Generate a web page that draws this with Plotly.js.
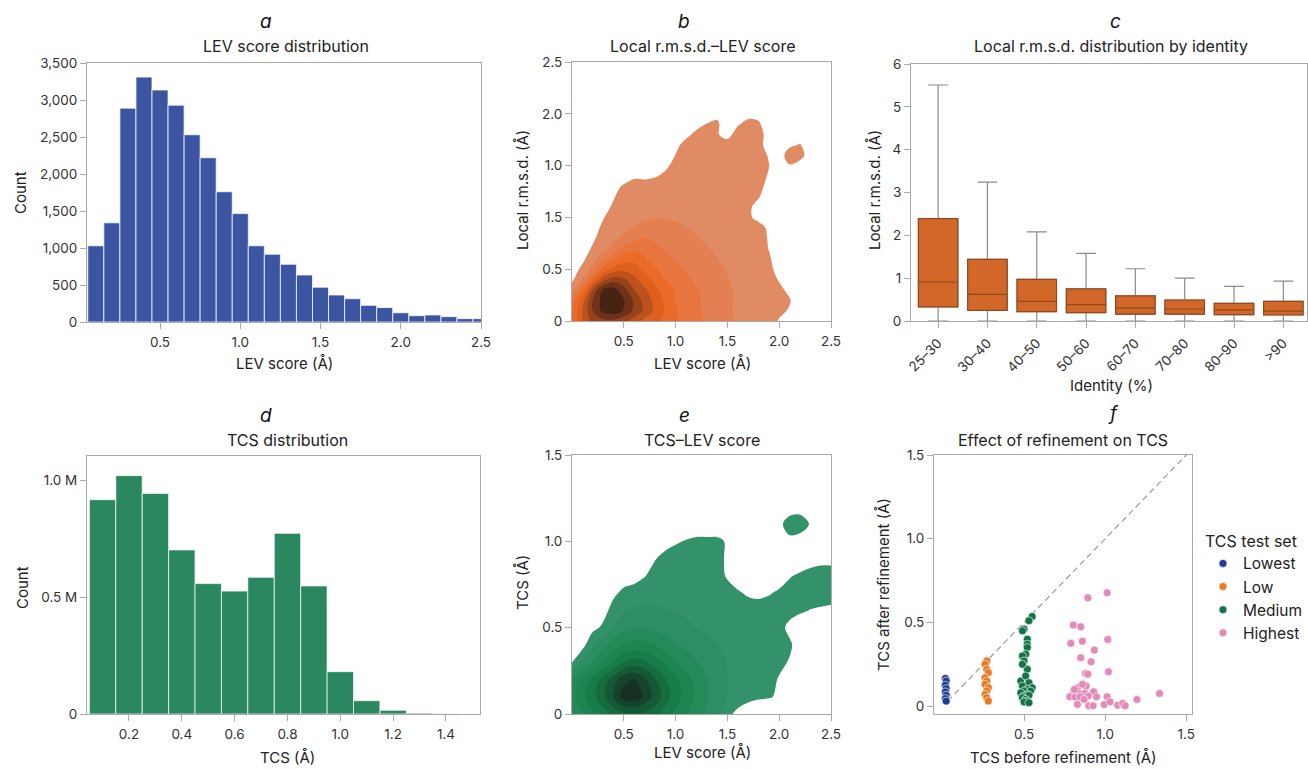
<!DOCTYPE html>
<html><head><meta charset="utf-8">
<script src="https://cdn.plot.ly/plotly-3.0.1.min.js"></script>
<style>html,body{margin:0;padding:0;background:#fff}</style>
</head><body>
<div id="chart" style="width:1308px;height:769px"></div>
<script>
// ---------- DATA ----------
// a: LEV score histogram
const levBinCenters = [0.1,0.2,0.3,0.4,0.5,0.6,0.7,0.8,0.9,1.0,1.1,1.2,1.3,1.4,1.5,1.6,1.7,1.8,1.9,2.0,2.1,2.2,2.3,2.4,2.5];
const levCounts = [1030,1340,2890,3310,3135,2930,2530,2220,1760,1465,1030,915,780,635,470,365,315,225,195,125,85,95,72,45,45];

// d: TCS histogram
const tcsBinCenters = [0.1,0.2,0.3,0.4,0.5,0.6,0.7,0.8,0.9,1.0,1.1,1.2,1.3,1.4];
const tcsCounts = [917000,1020000,944000,702000,558000,526000,585000,773000,548000,181000,57000,16000,4000,1000];

// c: local r.m.s.d. by identity (box statistics)
const identityBins = ["25–30","30–40","40–50","50–60","60–70","70–80","80–90",">90"];
const rmsdQ1     = [0.33,0.25,0.22,0.195,0.16,0.16,0.15,0.14];
const rmsdMedian = [0.91,0.62,0.46,0.38,0.30,0.28,0.26,0.23];
const rmsdQ3     = [2.39,1.44,0.97,0.75,0.585,0.49,0.41,0.46];
const rmsdLower  = [0,0,0,0,0,0,0,0];
const rmsdUpper  = [5.51,3.24,2.08,1.58,1.22,1.0,0.81,0.93];

// b, e: density level grids (level index)
const gridX  = [0,0.1,0.2,0.3,0.4,0.5,0.6,0.7,0.8,0.9,1.0,1.1,1.2,1.3,1.4,1.5,1.6,1.7,1.8,1.9,2.0,2.1,2.2,2.3,2.4,2.5];
const gridYB = [0,0.1,0.2,0.3,0.4,0.5,0.6,0.7,0.8,0.9,1.0,1.1,1.2,1.3,1.4,1.5,1.6,1.7,1.8,1.9,2.0,2.1,2.2,2.3,2.4,2.5];
const gridYE = [0,0.1,0.2,0.3,0.4,0.5,0.6,0.7,0.8,0.9,1.0,1.1,1.2,1.3,1.4,1.5];
const z0 = [0,0,0,0,0,0,0,0,0,0,0,0,0,0,0,0,0,0,0,0,0,0,0,0,0,0];
const rmsdLevGrid = [
 [3.5,5.5,6.8,7.2,7.2,6.8,6.0,5.2,4.8,4.2,3.6,3.2,2.7,2.4,2.0,1.7,1.4,1.2,1.0,0.8,0.45,0.1,0,0,0,0],
 [3.3,5.5,7.5,8.8,9.2,8.4,7.3,6.3,5.3,4.4,3.6,3.0,2.7,2.3,2.0,1.65,1.35,1.15,0.95,0.8,0.62,0.45,0.1,0,0,0],
 [3.0,5.0,7.5,8.9,9.5,8.6,7.3,6.1,5.2,4.3,3.45,3.0,2.6,2.35,2.0,1.7,1.35,1.15,1.0,0.85,0.7,0.55,0.1,0,0,0],
 [1.0,3.5,6.5,8.7,8.9,7.9,6.5,5.7,4.8,4.0,3.4,3.0,2.6,2.25,1.95,1.65,1.35,1.15,1.0,0.85,0.65,0.35,0,0,0,0],
 [0.3,1.45,4.0,6.1,7.0,6.7,5.8,4.9,4.2,3.45,3.1,2.7,2.35,2.1,1.8,1.55,1.3,1.1,0.95,0.75,0.45,0.1,0,0,0,0],
 [0.1,0.7,2.0,3.8,4.9,5.2,4.9,4.3,3.6,3.2,2.8,2.4,2.2,1.95,1.7,1.45,1.25,1.1,0.9,0.65,0.3,0,0,0,0,0],
 [0,0.3,1.0,2.2,3.3,4.0,4.2,3.6,3.1,2.75,2.45,2.2,1.95,1.75,1.52,1.35,1.2,1.05,0.85,0.58,0.2,0,0,0,0,0],
 [0,0.1,0.6,1.2,1.9,2.8,3.2,3.2,2.8,2.4,2.15,1.95,1.72,1.55,1.38,1.25,1.1,0.95,0.75,0.48,0.1,0,0,0,0,0],
 [0,0,0.35,0.85,1.3,1.7,2.2,2.55,2.3,2.0,1.85,1.7,1.55,1.42,1.3,1.2,1.1,0.95,0.75,0.45,0.1,0,0,0,0,0],
 [0,0,0.2,0.65,1.0,1.3,1.55,1.8,1.85,1.8,1.65,1.52,1.4,1.3,1.2,1.1,1.0,0.9,0.7,0.4,0.05,0,0,0,0,0],
 [0,0,0.05,0.45,0.85,1.1,1.25,1.35,1.45,1.45,1.4,1.32,1.25,1.18,1.1,1.0,0.85,0.6,0.35,0.15,0,0,0,0,0,0],
 [0,0,0,0.25,0.6,0.9,1.05,1.15,1.2,1.2,1.18,1.15,1.1,1.05,1.0,0.95,0.85,0.62,0.3,0.1,0,0,0,0,0,0],
 [0,0,0,0.1,0.45,0.75,0.9,0.95,1.0,1.0,1.0,1.0,1.0,1.0,1.0,1.0,0.95,0.8,0.55,0.2,0,0,0,0,0,0],
 [0,0,0,0,0.25,0.6,0.75,0.8,0.8,0.85,0.95,1.0,1.0,1.0,1.0,1.0,1.0,0.85,0.65,0.35,0,0,0,0,0,0],
 [0,0,0,0,0,0.1,0.4,0.35,0.45,0.6,0.8,0.95,1.0,1.0,1.0,1.0,1.0,0.85,0.7,0.45,0,0,0,0,0,0],
 [0,0,0,0,0,0,0,0,0.1,0.4,0.65,0.85,0.95,1.0,1.0,1.0,1.0,0.9,0.75,0.52,0.1,0.45,0.15,0,0,0],
 [0,0,0,0,0,0,0,0,0,0.15,0.52,0.8,0.95,1.0,1.0,1.0,1.0,0.9,0.75,0.45,0.1,0.9,0.8,0.1,0,0],
 [0,0,0,0,0,0,0,0,0,0,0.35,0.7,0.85,0.9,0.8,0.75,0.85,0.9,0.7,0.25,0,0.35,0.55,0.1,0,0],
 [0,0,0,0,0,0,0,0,0,0,0.1,0.35,0.65,0.7,0.55,0.3,0.75,0.85,0.7,0.3,0,0,0.1,0,0,0],
 [0,0,0,0,0,0,0,0,0,0,0,0.1,0.3,0.52,0.6,0.15,0.45,0.65,0.6,0.1,0,0,0,0,0,0],
 [0,0,0,0,0,0,0,0,0,0,0,0,0.1,0.2,0.35,0.1,0.1,0.35,0.3,0,0,0,0,0,0,0],
 z0, z0, z0, z0, z0
];
const tcsLevGrid = [
 [2.8,3.5,4.3,5.0,5.8,6.3,6.45,6.3,5.8,5.0,4.3,3.6,3.0,2.4,1.8,0.8,0.2,0.1,0,0,0,0,0,0,0,0],
 [3.2,4.2,5.2,6.3,7.6,9.0,9.2,8.3,7.2,6.0,5.0,4.1,3.3,2.6,2.0,1.45,1.1,0.7,0.6,0.55,0.42,0,0,0,0,0],
 [2.8,3.8,4.8,5.9,7.0,8.2,8.55,7.7,6.6,5.6,4.7,3.9,3.2,2.6,2.0,1.55,1.2,1.0,0.8,0.7,0.45,0,0,0,0,0],
 [0.45,1.6,2.6,3.6,4.6,5.45,5.9,5.7,5.0,4.3,3.6,3.0,2.55,2.1,1.75,1.45,1.2,1.0,0.85,0.75,0.65,0.45,0,0,0,0],
 [0,0.1,1.4,2.2,3.0,3.6,3.9,3.8,3.4,3.0,2.6,2.3,2.0,1.75,1.52,1.3,1.15,1.0,0.9,0.8,0.7,0.6,0.2,0,0,0],
 [0,0,0.2,0.7,1.6,2.2,2.45,2.45,2.3,2.1,1.9,1.7,1.48,1.35,1.2,1.1,1.0,0.9,0.85,0.8,0.7,0.35,0.1,0,0,0],
 [0,0,0,0.1,0.9,1.4,1.6,1.7,1.65,1.55,1.45,1.35,1.25,1.15,1.05,1.0,0.9,0.85,0.8,0.8,0.75,0.7,0.6,0.48,0.42,0.35],
 [0,0,0,0,0.3,0.75,0.95,1.05,1.1,1.1,1.1,1.05,1.0,1.0,0.95,0.85,0.6,0.4,0.35,0.45,0.6,0.75,0.8,0.8,0.8,0.8],
 [0,0,0,0,0,0,0.1,0.45,0.8,0.95,1.0,1.0,1.0,0.95,0.85,0.4,0.1,0,0,0,0.2,0.45,0.6,0.75,0.8,0.8],
 [0,0,0,0,0,0,0,0,0.45,0.75,0.9,0.95,0.95,0.9,0.8,0.35,0,0,0,0,0,0,0.1,0.2,0.3,0.3],
 [0,0,0,0,0,0,0,0,0,0.2,0.4,0.55,0.6,0.6,0.6,0.45,0,0,0,0,0,0.3,0.2,0,0,0],
 [0,0,0,0,0,0,0,0,0,0,0,0,0.2,0.2,0.2,0,0,0,0,0,0.3,0.85,0.85,0.45,0,0],
 [0,0,0,0,0,0,0,0,0,0,0,0,0,0,0,0,0,0,0,0,0,0.1,0.2,0,0,0],
 z0, z0, z0
];

// f: TCS before / after refinement
const lowestBefore = [0.015,0.02,0.015,0.02,0.015,0.02,0.015,0.02];
const lowestAfter  = [0.165,0.15,0.125,0.105,0.085,0.065,0.045,0.03];
const lowBefore = [0.27,0.26,0.27,0.28,0.26,0.27,0.26,0.28,0.27,0.26,0.27,0.28];
const lowAfter  = [0.27,0.25,0.22,0.20,0.17,0.15,0.13,0.11,0.09,0.07,0.05,0.03];
const mediumBefore = [0.55,0.53,0.50,0.49,0.52,0.52,0.52,0.51,0.49,0.50,0.52,0.49,0.48,0.51,0.53,0.49,0.55,0.52,0.50,0.54,0.48,0.52,0.50,0.53,0.49,0.51,0.52,0.50,0.53];
const mediumAfter  = [0.535,0.51,0.46,0.45,0.40,0.37,0.35,0.31,0.30,0.27,0.22,0.25,0.15,0.18,0.14,0.12,0.11,0.10,0.09,0.09,0.08,0.07,0.06,0.065,0.05,0.04,0.03,0.025,0.02];
const highestBefore = [1.012,0.893,0.804,0.849,0.788,0.859,1.016,0.933,0.849,0.913,0.879,0.893,1.02,0.829,0.883,0.929,0.804,0.839,0.875,0.782,0.815,0.845,0.895,0.946,1.012,0.829,0.899,0.925,0.994,1.03,1.077,1.107,1.123,1.196,1.335,0.81,0.86,0.87];
const highestAfter  = [0.677,0.647,0.484,0.474,0.375,0.388,0.398,0.335,0.289,0.265,0.195,0.191,0.205,0.11,0.12,0.086,0.085,0.076,0.076,0.056,0.054,0.056,0.06,0.056,0.056,0.01,0.002,0.002,0.01,0.026,0.006,0.016,0.002,0.04,0.076,0.1,0.13,0.04];
const identityLine = [0.03,1.5];

// ---------- STYLE ----------
const W = 1308, H = 769;
const FONT = "Inter, 'Noto Sans', 'DejaVu Sans', sans-serif";
const px = v => v / W;
const py = v => 1 - v / H;
const axBase = {
  showline:true, mirror:true, linecolor:'#a9a9a9', linewidth:1,
  ticks:'outside', ticklen:6, tickwidth:1, tickcolor:'#a9a9a9',
  showgrid:false, zeroline:false, fixedrange:true,
  tickfont:{family:FONT, size:13.5, color:'#333'}
};
const ax = o => Object.assign({}, axBase, o);
const xax = o => Object.assign({}, axBase, {ticklabelstandoff:2}, o);

const orangeScale = [[0,'#ffffff'],[1/9,'rgb(224,139,100)'],[2/9,'rgb(228,127,82)'],[3/9,'rgb(232,116,62)'],[4/9,'rgb(236,106,40)'],[5/9,'rgb(222,96,28)'],[6/9,'rgb(190,82,28)'],[7/9,'rgb(150,66,27)'],[8/9,'rgb(110,50,24)'],[1,'rgb(72,35,20)']];
const greenScale = [[0,'#ffffff'],[1/9,'rgb(52,146,106)'],[2/9,'rgb(44,142,98)'],[3/9,'rgb(36,138,90)'],[4/9,'rgb(28,133,82)'],[5/9,'rgb(22,124,73)'],[6/9,'rgb(20,108,63)'],[7/9,'rgb(20,88,53)'],[8/9,'rgb(20,68,43)'],[1,'rgb(22,48,34)']];

const contourCommon = {
  type:'contour', autocontour:false,
  contours:{start:0.5, end:8.5, size:1, coloring:'fill', showlines:false},
  line:{width:0, smoothing:1}, showscale:false, hoverinfo:'skip', showlegend:false
};

const traces = [
  {type:'bar', x:levBinCenters, y:levCounts, width:0.1, xaxis:'x', yaxis:'y',
   marker:{color:'#3c55a2', line:{color:'rgba(255,255,255,0.75)', width:1}}, showlegend:false, hoverinfo:'skip'},
  Object.assign({}, contourCommon, {x:gridX, y:gridYB, z:rmsdLevGrid, xaxis:'x2', yaxis:'y2', colorscale:orangeScale}),
  {type:'box', x:identityBins, q1:rmsdQ1, median:rmsdMedian, q3:rmsdQ3, lowerfence:rmsdLower, upperfence:rmsdUpper,
   xaxis:'x3', yaxis:'y3', width:0.8, whiskerwidth:0.5, boxpoints:false,
   fillcolor:'#d2672a', line:{color:'#8c8c8c', width:1.2}, showlegend:false, hoverinfo:'skip'},
  {type:'box', x:identityBins, q1:rmsdQ1, median:rmsdMedian, q3:rmsdQ3, lowerfence:rmsdQ1, upperfence:rmsdQ3,
   xaxis:'x3', yaxis:'y3', width:0.8, whiskerwidth:0, boxpoints:false,
   fillcolor:'#d2672a', line:{color:'#93481b', width:1.2}, showlegend:false, hoverinfo:'skip'},
  {type:'bar', x:tcsBinCenters, y:tcsCounts, width:0.1, xaxis:'x4', yaxis:'y4',
   marker:{color:'#2a8760', line:{color:'rgba(255,255,255,0.7)', width:1}}, showlegend:false, hoverinfo:'skip'},
  Object.assign({}, contourCommon, {x:gridX, y:gridYE, z:tcsLevGrid, xaxis:'x5', yaxis:'y5', colorscale:greenScale}),
  {type:'scatter', mode:'lines', x:identityLine, y:identityLine, xaxis:'x6', yaxis:'y6',
   line:{color:'#9a9a9a', width:1.2, dash:'6px,4px'}, showlegend:false, hoverinfo:'skip'},
  {type:'scatter', mode:'markers', name:'Lowest', x:lowestBefore, y:lowestAfter, xaxis:'x6', yaxis:'y6',
   marker:{color:'#1f3c91', size:8, line:{color:'#fff', width:0.6}}},
  {type:'scatter', mode:'markers', name:'Low', x:lowBefore, y:lowAfter, xaxis:'x6', yaxis:'y6',
   marker:{color:'#ea7a22', size:8, line:{color:'#fff', width:0.6}}},
  {type:'scatter', mode:'markers', name:'Medium', x:mediumBefore, y:mediumAfter, xaxis:'x6', yaxis:'y6',
   marker:{color:'#137346', size:8, line:{color:'#fff', width:0.6}}},
  {type:'scatter', mode:'markers', name:'Highest', x:highestBefore, y:highestAfter, xaxis:'x6', yaxis:'y6',
   marker:{color:'#e28bb7', size:8, line:{color:'#fff', width:0.6}}}
];

const ann = (text, x, y, opts) => Object.assign({
  text:text, x:px(x), y:py(y), xref:'paper', yref:'paper', showarrow:false,
  xanchor:'center', yanchor:'middle', font:{family:FONT, size:15, color:'#222'}
}, opts || {});
const title = (t, x, y) => ann(t, x, y, {font:{family:FONT, size:16, color:'#222'}});
const letter = (t, x, y) => ann('<i>' + t + '</i>', x, y, {font:{family:FONT, size:19, color:'#111'}});
const ytitle = (t, x, y) => ann(t, x, y, {textangle:-90});

const layout = {
  width:W, height:H, margin:{l:0, r:0, t:0, b:0},
  paper_bgcolor:'#fff', plot_bgcolor:'#fff',
  font:{family:FONT, color:'#222'},
  bargap:0, boxmode:'overlay', hovermode:false,
  xaxis:  xax({domain:[px(87), px(481)], anchor:'y', range:[0.045,2.5], tickvals:[0.5,1,1.5,2,2.5], tickformat:'.1f'}),
  yaxis:  ax({domain:[py(322), py(63)], anchor:'x', range:[0,3500], tickvals:[0,500,1000,1500,2000,2500,3000,3500], tickformat:',d'}),
  xaxis2: xax({domain:[px(572), px(831)], anchor:'y2', range:[0,2.5], tickvals:[0.5,1,1.5,2,2.5], tickformat:'.1f'}),
  yaxis2: ax({domain:[py(321), py(62)], anchor:'x2', range:[0,2.5], tickvals:[0,0.5,1,1.5,2,2.5], ticktext:['0','0.5','1.5','1.0','2.0','2.5']}),
  xaxis3: xax({domain:[px(911), px(1307)], anchor:'y3', type:'category', range:[-0.55,7.48], tickangle:-45}),
  yaxis3: ax({domain:[py(321), py(64)], anchor:'x3', range:[0,6], dtick:1}),
  xaxis4: xax({domain:[px(87), px(480)], anchor:'y4', range:[0.041,1.529], tickvals:[0.2,0.4,0.6,0.8,1.0,1.2,1.4], tickformat:'.1f'}),
  yaxis4: ax({domain:[py(714), py(456)], anchor:'x4', range:[0,1104000], tickvals:[0,500000,1000000], ticktext:['0','0.5 M','1.0 M']}),
  xaxis5: xax({domain:[px(572), px(831)], anchor:'y5', range:[0,2.5], tickvals:[0.5,1,1.5,2,2.5], tickformat:'.1f'}),
  yaxis5: ax({domain:[py(714), py(455)], anchor:'x5', range:[0,1.5], tickvals:[0,0.5,1,1.5], ticktext:['0','0.5','1.0','1.5']}),
  xaxis6: xax({domain:[px(934), px(1192)], anchor:'y6', range:[-0.055,1.535], tickvals:[0.5,1,1.5], tickformat:'.1f'}),
  yaxis6: ax({domain:[py(714), py(455)], anchor:'x6', range:[-0.047,1.5], tickvals:[0,0.5,1,1.5], ticktext:['0','0.5','1.0','1.5']}),
  showlegend:true,
  legend:{x:px(1203), y:py(526), xanchor:'left', yanchor:'top', bgcolor:'rgba(0,0,0,0)',
    title:{text:'TCS test set', font:{family:FONT, size:16, color:'#222'}},
    font:{family:FONT, size:15.5, color:'#222'}, itemwidth:30, tracegroupgap:0},
  annotations:[
    letter('a', 266, 22), title('LEV score distribution', 286, 46),
    letter('b', 684, 22), title('Local r.m.s.d.–LEV score', 702, 46),
    letter('c', 1115, 22), title('Local r.m.s.d. distribution by identity', 1111, 46),
    letter('d', 266, 415), title('TCS distribution', 287, 440),
    letter('e', 684, 415), title('TCS–LEV score', 702, 440),
    letter('f', 1113, 413), title('Effect of refinement on TCS', 1063, 440),
    ytitle('Count', 20, 193), ann('LEV score (Å)', 284, 363),
    ytitle('Local r.m.s.d. (Å)', 522, 190), ann('LEV score (Å)', 702, 363),
    ytitle('Local r.m.s.d. (Å)', 874, 190), ann('Identity (%)', 1111, 385),
    ytitle('Count', 22, 587), ann('TCS (Å)', 287, 757),
    ytitle('TCS (Å)', 522, 583), ann('LEV score (Å)', 702, 752),
    ytitle('TCS after refinement (Å)', 883, 585), ann('TCS before refinement (Å)', 1063, 757)
  ]
};

Plotly.newPlot('chart', traces, layout, {displayModeBar:false, staticPlot:true});
</script>
</body></html>
